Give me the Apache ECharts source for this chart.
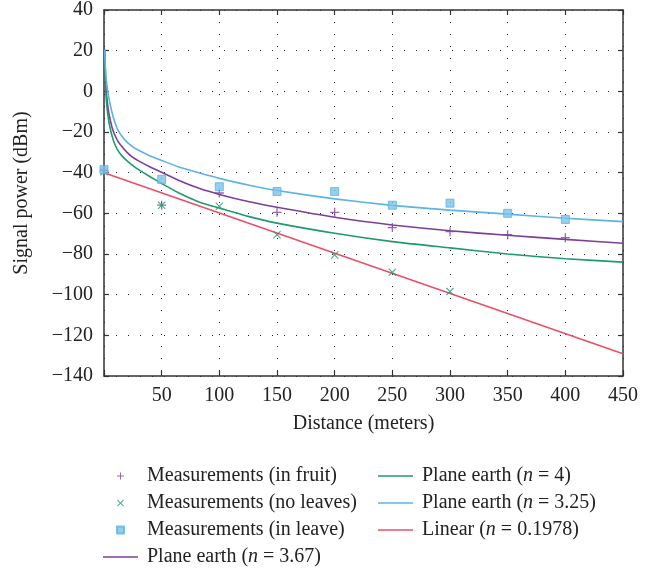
<!DOCTYPE html>
<html><head><meta charset="utf-8">
<script src="https://cdn.jsdelivr.net/npm/echarts@6/dist/echarts.min.js"></script>
<style>html,body{margin:0;padding:0;background:#fff}#c{width:661px;height:568px}</style>
</head><body><div id="c"></div>
<script>
// ---- data ----
const measX = [0, 50, 100, 150, 200, 250, 300, 350, 400];
const fruit = [-39, -56, -50, -59.5, -59.5, -67, -69, -70.5, -72];
const noLeavesX = [0, 50, 100, 150, 200, 250, 300];
const noLeaves = [-39.5, -56, -56.5, -70.5, -80.5, -89, -98.5];
const inLeave = [-38.5, -43.3, -46.9, -49.3, -49.3, -56, -55, -60, -63];

const curveX = [0.6, 1, 1.5, 2, 3, 4, 5, 7, 9, 12, 16, 20, 25, 30, 40, 50, 65, 83, 100, 125, 150, 200, 250, 300, 350, 400, 450];
const pe367 = [20.5, 12, 5, -0.5, -6, -10, -13, -17.8, -21, -24.5, -27.5, -30, -32.5, -34.2, -37.2, -39.8, -43.8, -47.8, -50.7, -54.2, -57, -61.9, -65.7, -68.6, -70.8, -72.8, -74.7];
const pe4   = [20.5, 9, 1, -4, -10, -14, -17.3, -22, -25.5, -29, -32, -34.2, -36.5, -38.5, -42, -45.3, -50, -54.5, -57.4, -61.5, -64.8, -69.8, -73.9, -77, -80, -82.3, -84];
const pe325 = [20.5, 14, 9, 5.5, 1, -2.5, -5.5, -10.5, -14.5, -19, -22.5, -25, -27.3, -29, -31.8, -34, -37.2, -40.2, -42.8, -46.1, -48.8, -52.9, -56.1, -58.4, -60.4, -62.4, -64.1];
const linX = [0, 450];
const linear = [-40, -129];

const xTicks = {min: 0, max: 450, step: 50};
const yTicks = {min: -140, max: 40, step: 20};

// ---- chart ----
const FONT = "'Liberation Serif','DejaVu Serif',serif";
const FS = 20;
const C_PURPLE = '#7b3f99', C_GREEN = '#1f9a6e', C_BLUE = '#5cb3e4', C_RED = '#e8506a';
const zip = (xs, ys) => xs.map((x, i) => [x, ys[i]]);
const minus = v => (v < 0 ? '\u2212' + Math.abs(v) : String(v));
const PLUS = 'path://M4.3,0H5.7V4.3H10V5.7H5.7V10H4.3V5.7H0V4.3H4.3Z';
const CROSS = 'path://M0,1L1,0L5,4L9,0L10,1L6,5L10,9L9,10L5,6L1,10L0,9L4,5Z';
const SQUARE = 'path://M0,0H10V10H0Z';
const LINEICON = 'path://M0,0H35V1.6H0Z';

const dotted = {show: true, lineStyle: {color: '#222', width: 1, type: [1, 11]}};
const baseX = {type: 'value', min: xTicks.min, max: xTicks.max, interval: xTicks.step};
const baseY = {type: 'value', min: yTicks.min, max: yTicks.max, interval: yTicks.step};
const axLine = {show: true, onZero: false, lineStyle: {color: '#333', width: 1.5}};
const tickIn = {show: true, inside: true, length: 5, lineStyle: {color: '#333', width: 1.2}};

const chart = echarts.init(document.getElementById('c'), null, {renderer: 'canvas'});
const nameFmt = n => n.replace('(n =', '({i|n} =');
const legendText = {fontFamily: FONT, fontSize: FS, color: '#222', lineHeight: 20, padding: [0, 0, 0, 4],
  rich: {i: {fontFamily: FONT, fontSize: FS, fontStyle: 'italic', color: '#222'}}};
const curve = (name, ys, color) => ({name, type: 'line', smooth: 0.2, symbol: 'none', data: zip(curveX, ys),
  lineStyle: {color, width: 1.6}, itemStyle: {color}, z: 3});

chart.setOption({
  animation: false,
  backgroundColor: '#fff',
  grid: {left: 104, top: 10, width: 519, height: 366},
  xAxis: [
    Object.assign({}, baseX, {position: 'bottom', axisLine: axLine, axisTick: tickIn, splitLine: dotted,
      name: 'Distance (meters)', nameLocation: 'middle', nameGap: 38,
      nameTextStyle: {fontFamily: FONT, fontSize: FS, color: '#222'},
      axisLabel: {fontFamily: FONT, fontSize: FS, color: '#222', margin: 10, formatter: v => (v === 0 ? '' : minus(v))}}),
    Object.assign({}, baseX, {position: 'top', axisLine: axLine, axisTick: tickIn, splitLine: {show: false}, axisLabel: {show: false}})
  ],
  yAxis: [
    Object.assign({}, baseY, {position: 'left', axisLine: axLine, axisTick: tickIn, splitLine: dotted,
      name: 'Signal power (dBm)', nameLocation: 'middle', nameGap: 72,
      nameTextStyle: {fontFamily: FONT, fontSize: FS, color: '#222'},
      axisLabel: {fontFamily: FONT, fontSize: FS, color: '#222', margin: 11, formatter: minus}}),
    Object.assign({}, baseY, {position: 'right', axisLine: axLine, axisTick: tickIn, splitLine: {show: false}, axisLabel: {show: false}})
  ],
  legend: [
    {left: 103, top: 466, padding: 0, orient: 'vertical', itemWidth: 35, itemHeight: 7, itemGap: 7,
      formatter: nameFmt, textStyle: legendText, selectedMode: false,
      data: [{name: 'Measurements (in fruit)', icon: PLUS}, {name: 'Measurements (no leaves)', icon: CROSS},
             {name: 'Measurements (in leave)', icon: SQUARE}, {name: 'Plane earth (n = 3.67)', icon: LINEICON}]},
    {left: 378, top: 466, padding: 0, orient: 'vertical', itemWidth: 35, itemHeight: 7, itemGap: 7,
      formatter: nameFmt, textStyle: legendText, selectedMode: false,
      data: [{name: 'Plane earth (n = 4)', icon: LINEICON}, {name: 'Plane earth (n = 3.25)', icon: LINEICON},
             {name: 'Linear (n = 0.1978)', icon: LINEICON}]}
  ],
  series: [
    curve('Plane earth (n = 3.67)', pe367, C_PURPLE),
    curve('Plane earth (n = 4)', pe4, C_GREEN),
    curve('Plane earth (n = 3.25)', pe325, C_BLUE),
    {name: 'Linear (n = 0.1978)', type: 'line', symbol: 'none', data: zip(linX, linear),
      lineStyle: {color: C_RED, width: 1.6}, itemStyle: {color: C_RED}, z: 3},
    {name: 'Measurements (in fruit)', type: 'scatter', symbol: PLUS, symbolSize: 9, data: zip(measX, fruit),
      itemStyle: {color: C_PURPLE}, z: 4},
    {name: 'Measurements (no leaves)', type: 'scatter', symbol: CROSS, symbolSize: 8, data: zip(noLeavesX, noLeaves),
      itemStyle: {color: C_GREEN}, z: 4},
    {name: 'Measurements (in leave)', type: 'scatter', symbol: 'rect', symbolSize: 8, data: zip(measX, inLeave),
      itemStyle: {color: '#7cc3ea', borderColor: C_BLUE, borderWidth: 1}, z: 5}
  ]
});
</script></body></html>
